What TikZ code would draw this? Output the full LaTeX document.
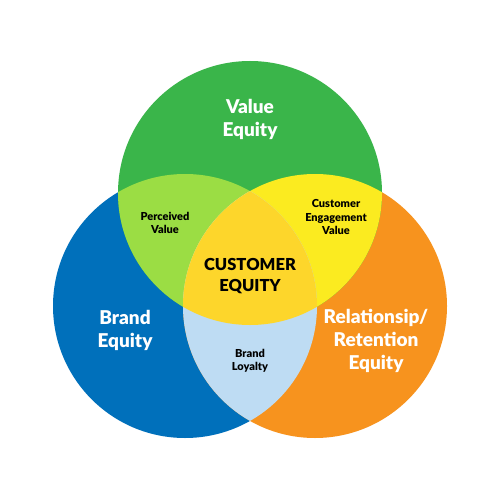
\documentclass[tikz,border=0pt]{standalone}
\usepackage{fontspec}
\setmainfont{Lato}[BoldFont={Lato Black}]
\usepackage{xcolor}
\usetikzlibrary{positioning}

\definecolor{brandBlue}{HTML}{0070BB}
\definecolor{retentionOrange}{HTML}{F7931E}
\definecolor{valueGreen}{HTML}{3AB54A}
\definecolor{perceivedGreen}{HTML}{9BDD44}
\definecolor{engageYellow}{HTML}{FBEB20}
\definecolor{loyaltyBlue}{HTML}{BEDCF3}
\definecolor{coreGold}{HTML}{FDD62B}

\begin{document}
\begin{tikzpicture}[x=1pt, y=-1pt]
	\tikzset{bigLabel/.style={white, align=center, inner sep=0pt, font=\fontsize{19}{23}\selectfont\bfseries}}
	\tikzset{smallLabel/.style={black, align=center, inner sep=0pt, font=\fontsize{11}{13.5}\selectfont\bfseries}}
	\tikzset{coreLabel/.style={black, align=center, inner sep=0pt, font=\fontsize{16.5}{21}\selectfont\bfseries}}

	\useasboundingbox[fill=white] (0,0) rectangle (500,500);

	% Centres
	\coordinate (valueC) at (250,193);
	\coordinate (brandC) at (185,306);
	\coordinate (retentionC) at (315,306);

	% Circles
	\fill[brandBlue] (brandC) circle (132);
	\fill[retentionOrange] (retentionC) circle (132);
	\fill[valueGreen] (valueC) circle (132);

	% Overlaps
	\begin{scope}
		\clip (brandC) circle (132);
		\fill[perceivedGreen] (valueC) circle (132);
	\end{scope}
	\begin{scope}
		\clip (retentionC) circle (132);
		\fill[engageYellow] (valueC) circle (132);
	\end{scope}
	\begin{scope}
		\clip (brandC) circle (132);
		\fill[loyaltyBlue] (retentionC) circle (132);
	\end{scope}
	\begin{scope}
		\clip (brandC) circle (132);
		\clip (retentionC) circle (132);
		\fill[coreGold] (valueC) circle (132);
	\end{scope}

	% Labels
	\node (value) [bigLabel] at (250,119) {Value\\Equity};
	\node (brand) [bigLabel] at (125,330) {Brand\\Equity};
	\node (retention) [bigLabel] at (376,341) {Relationsip/\\Retention\\Equity};

	\node (perceived) [smallLabel] at (165,223) {Perceived\\Value};
	\node (engage) [smallLabel] at (336,217) {Customer\\Engagement\\Value};
	\node (loyalty) [smallLabel] at (250,361) {Brand\\Loyalty};

	\node (customer) [coreLabel] at (250,276) {CUSTOMER\\EQUITY};

\end{tikzpicture}
\end{document}
